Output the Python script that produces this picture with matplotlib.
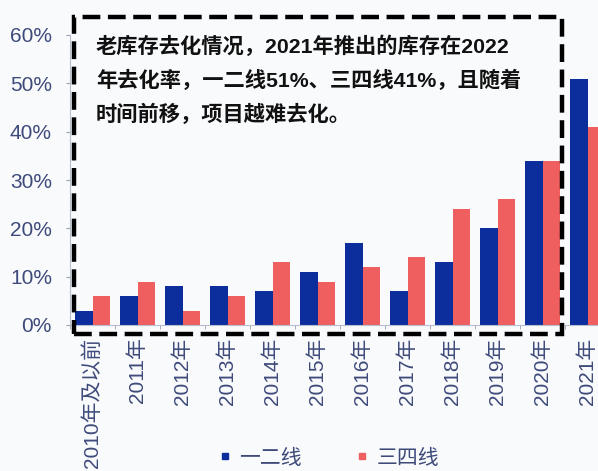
import matplotlib.pyplot as plt
from matplotlib.lines import Line2D
from matplotlib.patches import Rectangle
from matplotlib.ticker import FuncFormatter

plt.rcParams['font.family'] = ['Liberation Sans', 'Noto Sans CJK SC']

# 各年份推出库存在2022年的去化率(%)
years = ["2010年及以前", "2011年", "2012年", "2013年", "2014年", "2015年",
         "2016年", "2017年", "2018年", "2019年", "2020年", "2021年"]
tier12 = [3, 6, 8, 8, 7, 11, 17, 7, 13, 20, 34, 51]
tier34 = [6, 9, 3, 6, 13, 9, 12, 14, 24, 26, 34, 41]
series_names = ["一二线", "三四线"]

blue = "#0c2e9c"
red = "#ef5f5f"
txt_c = "#3e4a7a"
bg = "#f9fafc"

W, H = 598, 471
fig = plt.figure(figsize=(W / 100, H / 100), dpi=100, facecolor=bg)
ax = fig.add_axes([70 / W, 1 - 325 / H, 540 / W, 290 / H], facecolor=bg)

x = range(len(years))
bw = 0.39
ax.bar([i - bw / 2 for i in x], tier12, width=bw, color=blue, zorder=2)
ax.bar([i + bw / 2 for i in x], tier34, width=bw, color=red, zorder=2)

ax.set_xlim(-0.5, len(years) - 0.5)
ax.set_ylim(0, 60)
ax.set_yticks(range(0, 61, 10))
ax.yaxis.set_major_formatter(FuncFormatter(lambda v, p: "%d%%" % v))
ax.set_xticks(list(x))
ax.set_xticklabels(years, rotation=90)
ax.set_xticks([i + 0.5 for i in range(-1, len(years))], minor=True)
ax.tick_params(axis="x", which="major", length=0, pad=9, labelsize=15, labelcolor=txt_c)
ax.tick_params(axis="x", which="minor", length=3, color="#9aa0b0")
ax.tick_params(axis="y", length=3, color="#9aa0b0", labelsize=15, labelcolor=txt_c, pad=10)

for s in ["top", "right"]:
    ax.spines[s].set_visible(False)
for s in ["left", "bottom"]:
    ax.spines[s].set_color("#b8bfd0")
    ax.spines[s].set_linewidth(0.8)

# 黑色虚线说明框
x0, y0, x1, y1 = 74, 17, 562, 334
box = Rectangle((x0 / W, 1 - y1 / H), (x1 - x0) / W, (y1 - y0) / H,
                transform=fig.transFigure, fill=False, edgecolor="black",
                linewidth=3.2, linestyle=(0, (4, 1.7)), zorder=5)
fig.patches.append(box)

lines = ["老库存去化情况，2021年推出的库存在2022",
         "年去化率，一二线51%、三四线41%，且随着",
         "时间前移，项目越难去化。"]
for k, t in enumerate(lines):
    fig.text(96 / W, 1 - (46 + 34 * k) / H, t, fontsize=15.3, fontweight="bold",
             color="#111111", va="center", ha="left")

handles = [Line2D([], [], marker="s", linestyle="", markersize=5, color=c)
           for c in (blue, red)]
leg = fig.legend(handles, series_names, loc="center", bbox_to_anchor=(328 / W, 1 - 458 / H),
                 ncol=2, frameon=False, fontsize=15, handletextpad=0.3,
                 columnspacing=2.5, handlelength=0.8)
for t in leg.get_texts():
    t.set_color(txt_c)

fig.savefig("out.png", dpi=100, facecolor=bg)
